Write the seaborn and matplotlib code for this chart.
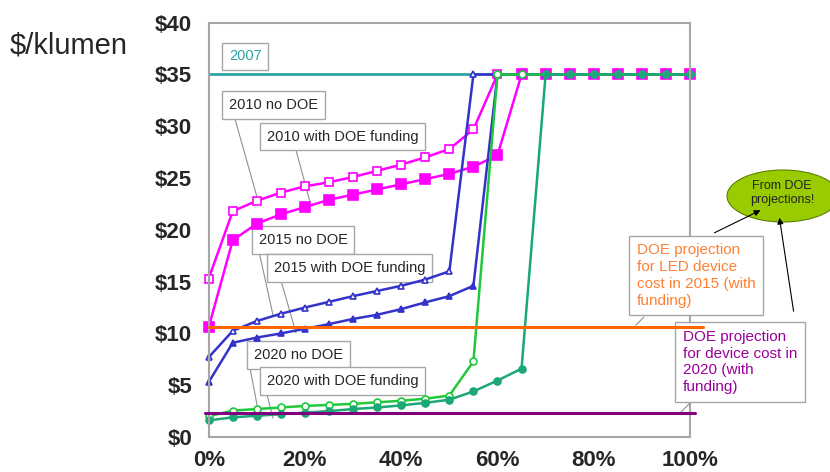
import numpy as np
import pandas as pd
import seaborn as sns
import matplotlib.pyplot as plt
from matplotlib.patches import Ellipse
from matplotlib.lines import Line2D

# market share (%) on the x axis, one point every 5 %
share = [0, 5, 10, 15, 20, 25, 30, 35, 40, 45, 50,
         55, 60, 65, 70, 75, 80, 85, 90, 95, 100]

# cost in $/klumen
cost_2010_no_doe = [15.3, 21.8, 22.8, 23.6, 24.2, 24.6, 25.1, 25.7, 26.3, 27.0, 27.8,
                    29.7, 35, 35, 35, 35, 35, 35, 35, 35, 35]
cost_2010_doe = [10.6, 19.0, 20.6, 21.5, 22.2, 22.9, 23.4, 23.9, 24.4, 24.9, 25.4,
                 26.1, 27.2, 35, 35, 35, 35, 35, 35, 35, 35]
cost_2015_no_doe = [7.7, 10.25, 11.2, 11.9, 12.5, 13.05, 13.6, 14.1, 14.6, 15.2, 16.0,
                    35, 35, 35, 35, 35, 35, 35, 35, 35, 35]
cost_2015_doe = [5.3, 9.1, 9.6, 10.0, 10.45, 10.9, 11.4, 11.8, 12.35, 13.0, 13.6,
                 14.6, 35, 35, 35, 35, 35, 35, 35, 35, 35]
cost_2020_no_doe = [2.0, 2.55, 2.7, 2.85, 3.0, 3.1, 3.2, 3.35, 3.5, 3.7, 4.0,
                    7.3, 35, 35, 35, 35, 35, 35, 35, 35, 35]
cost_2020_doe = [1.6, 1.9, 2.05, 2.2, 2.35, 2.5, 2.7, 2.85, 3.05, 3.3, 3.6,
                 4.4, 5.45, 6.6, 35, 35, 35, 35, 35, 35, 35]

series_names = ["2010 no DOE", "2010 with DOE funding", "2015 no DOE",
                "2015 with DOE funding", "2020 no DOE", "2020 with DOE funding"]
series_values = [cost_2010_no_doe, cost_2010_doe, cost_2015_no_doe,
                 cost_2015_doe, cost_2020_no_doe, cost_2020_doe]

cost_2007 = 35
doe_target_2015 = 10.6
doe_target_2020 = 2.3

y_ticks = [0, 5, 10, 15, 20, 25, 30, 35, 40]
y_labels = ["$0", "$5", "$10", "$15", "$20", "$25", "$30", "$35", "$40"]
x_ticks = [0, 20, 40, 60, 80, 100]
x_labels = ["0%", "20%", "40%", "60%", "80%", "100%"]

df = pd.DataFrame({
    "share": share * len(series_names),
    "cost": np.concatenate(series_values),
    "series": np.repeat(series_names, len(share)),
})

# look of each series: colour, marker, filled or not, marker size
styles = {
    "2010 no DOE": ("#FF00FF", "s", False, 5.5),
    "2010 with DOE funding": ("#FF00FF", "s", True, 6.5),
    "2015 no DOE": ("#3333CC", "^", False, 5),
    "2015 with DOE funding": ("#3333CC", "^", True, 5),
    "2020 no DOE": ("#22C83C", "o", False, 5),
    "2020 with DOE funding": ("#1CA874", "o", True, 5),
}

sns.set_style("white")
plt.rcParams["font.family"] = ["Liberation Sans", "DejaVu Sans"]

W, H = 830, 472
fig = plt.figure(figsize=(W / 100, H / 100), dpi=100)
ax = fig.add_axes([208.7 / W, 35 / H, (690 - 208.7) / W, (437 - 22.7) / H])


def fx(x):
    return x / W


def fy(y):
    return 1 - y / H


# 2007 reference line
ax.axhline(cost_2007, color="#2EA3A3", lw=2, zorder=1.8)

for name in series_names:
    color, marker, filled, ms = styles[name]
    sns.lineplot(data=df[df["series"] == name], x="share", y="cost", ax=ax,
                 color=color, lw=1.8, marker=marker, markersize=ms,
                 markerfacecolor=color if filled else "white",
                 markeredgecolor=color, markeredgewidth=1.2, legend=False,
                 clip_on=False)

# DOE projection lines
ax.axhline(doe_target_2015, xmin=0, xmax=1.027, color="#FF6600", lw=2.2,
           clip_on=False, zorder=6)
ax.axhline(doe_target_2020, xmin=-0.008, xmax=1.01, color="#800080", lw=2.2,
           clip_on=False, zorder=6)

ax.set_xlim(0, 100)
ax.set_ylim(0, 40)
ax.set_xticks(x_ticks)
ax.set_xticklabels(x_labels, fontsize=16, fontweight="bold")
ax.set_yticks(y_ticks)
ax.set_yticklabels(y_labels, fontsize=16, fontweight="bold")
ax.set_xlabel("")
ax.set_ylabel("")
ax.tick_params(axis="x", direction="in", length=6, color="#A0A0A0", pad=9)
ax.tick_params(axis="y", direction="out", length=4, color="#A0A0A0", pad=8)
for sp in ax.spines.values():
    sp.set_color("#A6A6A6")
    sp.set_linewidth(1.5)

fig.text(fx(10), fy(46), "$/klumen", fontsize=21, va="center", ha="left")

box = dict(boxstyle="square,pad=0.45", fc="white", ec="#A6A6A6", lw=1)
gray = "#909090"

ax.text(fx(229), fy(56.5), "2007", transform=fig.transFigure, fontsize=10.5,
        color="#2EA3A3", va="center", ha="left", bbox=box, zorder=1.5)

# series labels with their leader lines (pixel positions)
labels = [
    ("2010 no DOE", 229, 105, (235, 119), (257, 197)),
    ("2010 with DOE funding", 267, 136.5, (296, 150), (310, 202)),
    ("2015 no DOE", 259, 240, (258, 247), (273, 315)),
    ("2015 with DOE funding", 274, 268, (280, 277), (296, 333)),
    ("2020 no DOE", 254, 355, (250, 368), (258, 410)),
    ("2020 with DOE funding", 267, 381, (265, 387), (273, 418)),
]
for text, tx, ty, p0, p1 in labels:
    ax.add_line(Line2D([fx(p0[0]), fx(p1[0])], [fy(p0[1]), fy(p1[1])],
                       transform=fig.transFigure, color=gray, lw=0.8,
                       clip_on=False, zorder=1.4))
    ax.text(fx(tx), fy(ty), text, transform=fig.transFigure, fontsize=10.5,
            color="#262626", va="center", ha="left", bbox=box, zorder=1.5)

# right-hand callouts
ell = Ellipse((fx(783), fy(196)), 112 / W, 52 / H, transform=fig.transFigure,
              fc="#99CC00", ec="#5F7F00", lw=0.8, clip_on=False, zorder=5)
ax.add_patch(ell)
ax.text(fx(782), fy(193), "From DOE\nprojections!", transform=fig.transFigure,
        fontsize=9, color="#222222", ha="center", va="center", zorder=5.5,
        linespacing=1.15)

ax.add_line(Line2D([fx(644), fx(636)], [fy(317), fy(325)], transform=fig.transFigure,
                   color=gray, lw=0.8, clip_on=False, zorder=4.9))
ax.add_line(Line2D([fx(690), fx(681)], [fy(403), fy(412)], transform=fig.transFigure,
                   color=gray, lw=0.8, clip_on=False, zorder=4.9))

ax.text(fx(637), fy(275.5), "DOE projection\nfor LED device\ncost in 2015 (with\nfunding)",
        transform=fig.transFigure, fontsize=11, color="#FF8033", ha="left", va="center",
        linespacing=1.25, zorder=5,
        bbox=dict(boxstyle="square,pad=0.5", fc="white", ec="#A6A6A6", lw=1))
ax.text(fx(683), fy(362), "DOE projection\nfor device cost in\n2020 (with\nfunding)",
        transform=fig.transFigure, fontsize=11, color="#990099", ha="left", va="center",
        linespacing=1.25, zorder=5,
        bbox=dict(boxstyle="square,pad=0.5", fc="white", ec="#A6A6A6", lw=1))

arrow = dict(arrowstyle="-|>", color="black", lw=0.8, mutation_scale=9)
ax.annotate("", xy=(fx(763), fy(209)), xytext=(fx(712), fy(234)),
            xycoords="figure fraction", textcoords="figure fraction",
            arrowprops=arrow, zorder=5.6, annotation_clip=False)
ax.annotate("", xy=(fx(779), fy(215)), xytext=(fx(794), fy(314)),
            xycoords="figure fraction", textcoords="figure fraction",
            arrowprops=arrow, zorder=5.6, annotation_clip=False)

fig.savefig("out.png", dpi=100)
